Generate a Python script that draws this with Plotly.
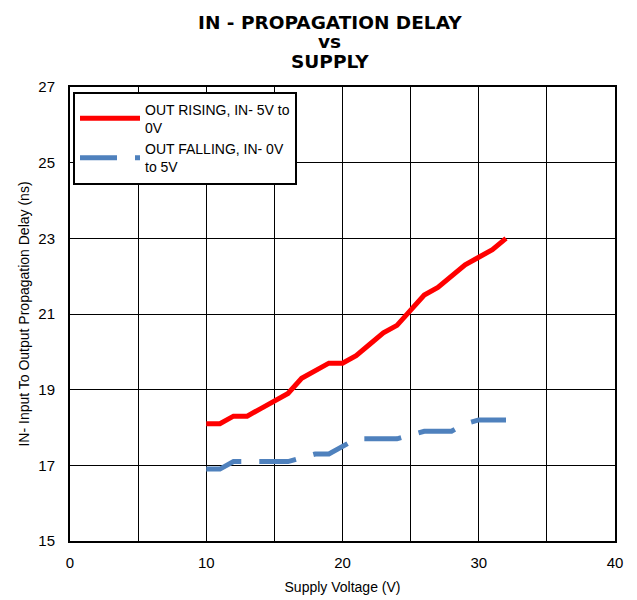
import plotly.graph_objects as go

supply_v = [10, 11, 12, 13, 14, 15, 16, 17, 18, 19, 20, 21, 22, 23, 24, 25, 26, 27, 28, 29, 30, 31, 32]
rising = [18.1, 18.1, 18.3, 18.3, 18.5, 18.7, 18.9, 19.3, 19.5, 19.7, 19.7, 19.9, 20.2, 20.5, 20.7, 21.1, 21.5, 21.7, 22.0, 22.3, 22.5, 22.7, 23.0]
falling = [16.9, 16.9, 17.1, 17.1, 17.1, 17.1, 17.1, 17.2, 17.3, 17.3, 17.5, 17.7, 17.7, 17.7, 17.7, 17.8, 17.9, 17.9, 17.9, 18.1, 18.2, 18.2, 18.2]

x_tickvals = [0, 5, 10, 15, 20, 25, 30, 35, 40]
x_ticktext = ["0", "", "10", "", "20", "", "30", "", "40"]
y_tickvals = [15, 17, 19, 21, 23, 25, 27]
title_lines = ["IN - PROPAGATION DELAY", "vs", "SUPPLY"]

font_family = "Liberation Sans, Arial, sans-serif"
title_font = dict(family="DejaVu Sans, sans-serif", size=18.5, color="black")

fig = go.Figure()
fig.add_trace(go.Scatter(
    x=supply_v, y=rising, mode="lines",
    name="OUT RISING, IN- 5V to<br>0V",
    line=dict(color="#ff0000", width=5),
))
fig.add_trace(go.Scatter(
    x=supply_v, y=falling, mode="lines",
    name="OUT FALLING, IN- 0V<br>to 5V",
    line=dict(color="#4f81bd", width=5, dash="37px,18px"),
))

title_y = [1.141, 1.101, 1.057]
for txt, ty in zip(title_lines, title_y):
    fig.add_annotation(
        text=f"<b>{txt}</b>", xref="paper", yref="paper",
        x=0.477, y=ty, xanchor="center", yanchor="middle",
        showarrow=False, font=title_font,
    )

fig.update_layout(
    width=629, height=592,
    margin=dict(l=62, r=22, t=79, b=59),
    paper_bgcolor="white", plot_bgcolor="white",
    font=dict(family=font_family, size=14, color="black"),
    showlegend=True,
    legend=dict(
        x=0.0055, y=0.99, xanchor="left", yanchor="top",
        bgcolor="white", bordercolor="black", borderwidth=2,
        font=dict(family=font_family, size=14, color="black"),
        tracegroupgap=0, itemwidth=60,
    ),
    xaxis=dict(
        range=[0, 40], tickvals=x_tickvals, ticktext=x_ticktext,
        showgrid=True, gridcolor="black", gridwidth=1,
        showline=True, linecolor="black", linewidth=2, mirror=True,
        zeroline=False, ticks="", ticklabelstandoff=7,
        tickfont=dict(size=15),
        title=dict(text="Supply Voltage (V)", font=dict(size=14), standoff=12),
        automargin=False,
    ),
    yaxis=dict(
        range=[15, 27], tickvals=y_tickvals,
        showgrid=True, gridcolor="black", gridwidth=1,
        showline=True, linecolor="black", linewidth=2, mirror=True,
        zeroline=False, ticks="", ticklabelstandoff=10,
        tickfont=dict(size=15),
        title=dict(text="IN- Input To Output Propagation Delay (ns)", font=dict(size=14), standoff=5),
        automargin=False,
    ),
)

fig.write_html("out.html")
